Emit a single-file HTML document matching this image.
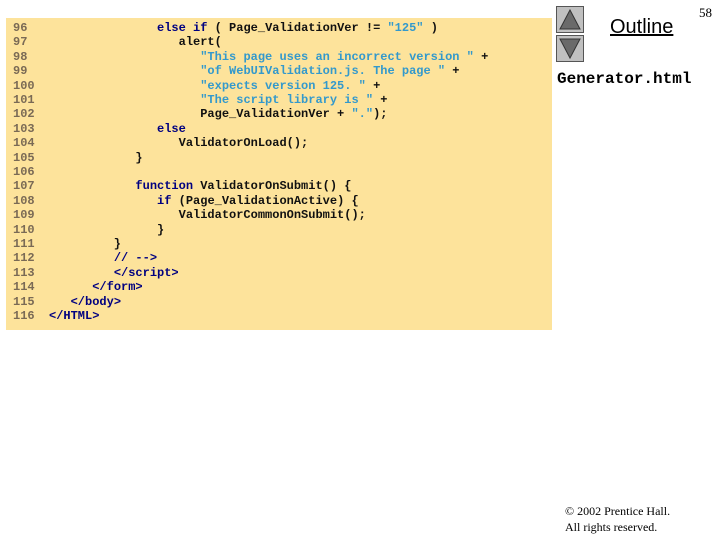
<!DOCTYPE html>
<html><head><style>
body{margin:0;width:720px;height:540px;background:#fff;position:relative;overflow:hidden;font-family:"Liberation Serif",serif}
#box{position:absolute;left:6px;top:18px;width:546px;height:312px;background:#fde39b}
.l{position:absolute;left:13px;font:bold 12px/14px "Liberation Mono",monospace;white-space:pre;color:#111}
.n{color:#7a6a55;display:inline-block;width:36px}
.k{color:#000080}.s{color:#3399cc}
.btn{position:absolute;left:556px;width:26px;height:25px;background:#c0c0c0;border:1px solid #555}
</style></head><body>
<div id="box"></div>
<div class="l" style="top:21px"><span class="n">96</span>               <span class="k">else if</span> ( Page_ValidationVer != <span class="s">"125"</span> )</div>
<div class="l" style="top:35.4px"><span class="n">97</span>                  alert(</div>
<div class="l" style="top:49.8px"><span class="n">98</span>                     <span class="s">"This page uses an incorrect version "</span> +</div>
<div class="l" style="top:64.2px"><span class="n">99</span>                     <span class="s">"of WebUIValidation.js. The page "</span> +</div>
<div class="l" style="top:78.6px"><span class="n">100</span>                     <span class="s">"expects version 125. "</span> +</div>
<div class="l" style="top:93px"><span class="n">101</span>                     <span class="s">"The script library is "</span> +</div>
<div class="l" style="top:107.4px"><span class="n">102</span>                     Page_ValidationVer + <span class="s">"."</span>);</div>
<div class="l" style="top:121.8px"><span class="n">103</span>               <span class="k">else</span></div>
<div class="l" style="top:136.2px"><span class="n">104</span>                  ValidatorOnLoad();</div>
<div class="l" style="top:150.6px"><span class="n">105</span>            }</div>
<div class="l" style="top:165px"><span class="n">106</span></div>
<div class="l" style="top:179.4px"><span class="n">107</span>            <span class="k">function</span> ValidatorOnSubmit() {</div>
<div class="l" style="top:193.8px"><span class="n">108</span>               <span class="k">if</span> (Page_ValidationActive) {</div>
<div class="l" style="top:208.2px"><span class="n">109</span>                  ValidatorCommonOnSubmit();</div>
<div class="l" style="top:222.6px"><span class="n">110</span>               }</div>
<div class="l" style="top:237px"><span class="n">111</span>         }</div>
<div class="l" style="top:251.4px"><span class="n">112</span>         <span class="k">// --&gt;</span></div>
<div class="l" style="top:265.8px"><span class="n">113</span>         <span class="k">&lt;/script&gt;</span></div>
<div class="l" style="top:280.2px"><span class="n">114</span>      <span class="k">&lt;/form&gt;</span></div>
<div class="l" style="top:294.6px"><span class="n">115</span>   <span class="k">&lt;/body&gt;</span></div>
<div class="l" style="top:309px"><span class="n">116</span><span class="k">&lt;/HTML&gt;</span></div>
<div class="btn" style="top:6px"><svg width="26" height="25"><polygon points="13,3 23,22 3,22" fill="#6a6a6a" stroke="#333"/></svg></div>
<div class="btn" style="top:35px"><svg width="26" height="25"><polygon points="3,3 23,3 13,22" fill="#6a6a6a" stroke="#333"/></svg></div>
<div style="position:absolute;left:610px;top:16px;font:20px 'Liberation Sans',sans-serif;text-decoration:underline;color:#000">Outline</div>
<div style="position:absolute;left:557px;top:70px;font:bold 16px 'Liberation Mono',monospace;color:#000">Generator.html</div>
<div style="position:absolute;left:699px;top:5px;font:13px 'Liberation Serif',serif">58</div>
<div style="position:absolute;left:565px;top:503px;font:12px/16px 'Liberation Serif',serif">© 2002 Prentice Hall.<br>All rights reserved.</div>
</body></html>
